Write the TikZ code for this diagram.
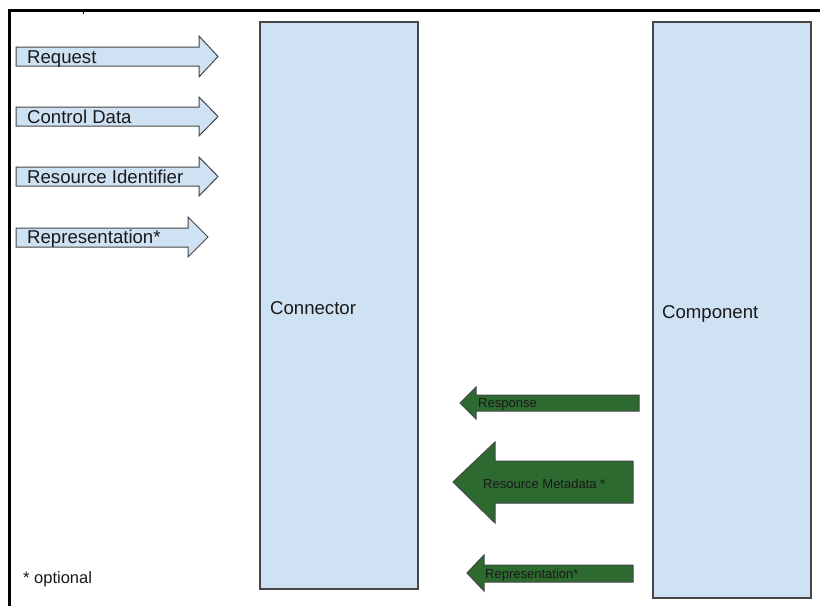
\documentclass[tikz,border=0pt]{standalone}
\usepackage{fontspec}
\setmainfont{Liberation Sans}
\definecolor{paleblue}{RGB}{207,226,243}
\definecolor{darkgreen}{RGB}{45,106,48}
\definecolor{edgegray}{RGB}{70,70,70}
\definecolor{inkgray}{RGB}{25,25,25}
\begin{document}
\begin{tikzpicture}[x=1pt,y=-1pt,
  block/.style={draw=edgegray,line width=1.1pt,fill=paleblue},
  inarrow/.style={draw=edgegray,line width=1pt,fill=paleblue,line join=miter},
  outarrow/.style={draw=edgegray,line width=1pt,fill=darkgreen,line join=miter},
  bigtext/.style={font=\fontsize{18.6}{20}\selectfont,text=inkgray,inner sep=0pt,anchor=base west},
  smalltext/.style={font=\fontsize{13}{15}\selectfont,text=inkgray,inner sep=0pt,anchor=base west}]
\useasboundingbox (0,0) rectangle (820,606);
\fill[white] (0,0) rectangle (820,606);

% outer frame (top and left edges)
\draw[line width=3pt,black] (9,606) -- (9,10) -- (820,10);
\draw[line width=1pt,black] (83,10) -- (83,14);

% the two blocks
\draw[block] (260,22) rectangle (418,589);
\node[bigtext] (connector) at (270,314) {Connector};
\draw[block] (653,22) rectangle (811,598);
\node[bigtext] (component) at (662,318) {Component};

% incoming (right-pointing) arrows: body x0..x1, head tip at x2
\draw[inarrow] (16,47) -- (199,47) -- (199,36) -- (218,56.5) -- (199,77) -- (199,66) -- (16,66) -- cycle;
\node[bigtext] (request) at (27,63) {Request};

\draw[inarrow] (16,107) -- (199,107) -- (199,97) -- (218,116.5) -- (199,136) -- (199,126) -- (16,126) -- cycle;
\node[bigtext] (control) at (27,123) {Control Data};

\draw[inarrow] (16,167) -- (199,167) -- (199,157) -- (218,176.5) -- (199,196) -- (199,186) -- (16,186) -- cycle;
\node[bigtext] (resid) at (27,183) {Resource Identifier};

\draw[inarrow] (16,228) -- (188,228) -- (188,217) -- (208,237) -- (188,257) -- (188,247) -- (16,247) -- cycle;
\node[bigtext] (repin) at (27,243) {Representation*};

% outgoing (left-pointing) arrows
\draw[outarrow] (639,395) -- (476,395) -- (476,387) -- (460,403) -- (476,419) -- (476,411) -- (639,411) -- cycle;
\node[smalltext] (response) at (478,407) {Response};

\draw[outarrow] (633,461) -- (495,461) -- (495,442) -- (453,482) -- (495,523) -- (495,503) -- (633,503) -- cycle;
\node[smalltext] (metadata) at (483,488) {Resource Metadata *};

\draw[outarrow] (633,565) -- (484,565) -- (484,555) -- (467,573) -- (484,591) -- (484,582) -- (633,582) -- cycle;
\node[smalltext] (repout) at (485,578) {Representation*};

% footnote
\node[font=\fontsize{16.5}{18}\selectfont,text=inkgray,inner sep=0pt,anchor=base west] (note) at (23,583) {* optional};
\end{tikzpicture}
\end{document}
